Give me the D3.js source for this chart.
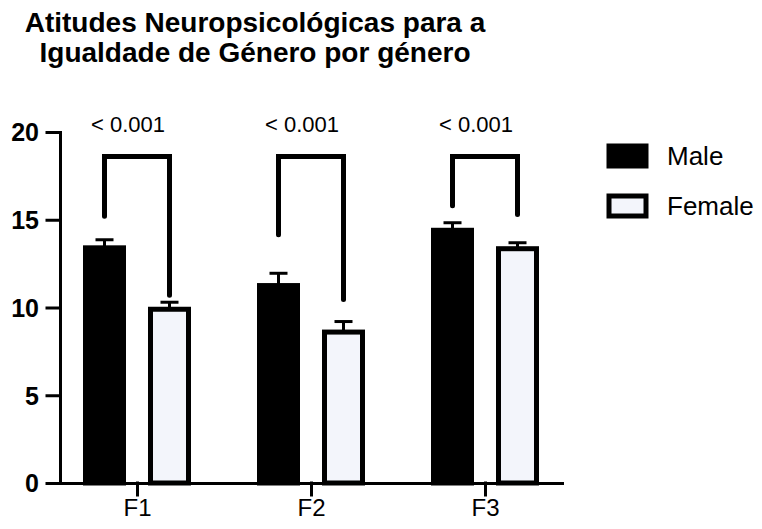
<!DOCTYPE html>
<html>
<head>
<meta charset="utf-8">
<script src="https://cdn.jsdelivr.net/npm/d3@7"></script>
<style>
    body { margin: 0; background: #fff; }
    svg { display: block; font-family: "Liberation Sans", Arial, sans-serif; }
</style>
</head>
<body>
<div id="chart"></div>
<script>
// data
const categories = ["F1", "F2", "F3"];
const series = ["Male", "Female"];
const maleMeans = [13.4, 11.25, 14.4];
const maleErr = [0.46, 0.7, 0.43];
const femaleMeans = [9.9, 8.6, 13.35];
const femaleErr = [0.4, 0.6, 0.34];
const yTicks = [0, 5, 10, 15, 20];
const pLabels = ["< 0.001", "< 0.001", "< 0.001"];
const bracketTop = 18.6;
const bracketLegMale = [15.2, 14.15, 15.8];
const bracketLegFemale = [10.7, 10.45, 15.3];
const titleLines = ["Atitudes Neuropsicológicas para a", "Igualdade de Género por género"];

const width = 762, height = 529;
const fills = {Male: "#000", Female: "#f3f5fb"};

let svg = d3.select("#chart").append("svg")
    .attr("width", width)
    .attr("height", height);

svg.append("rect").attr("width", width).attr("height", height).attr("fill", "#fff");

let ySc = d3.scaleLinear().domain([0, 20]).range([483, 132]);
let xSc = d3.scalePoint().domain(categories).range([60, 562]).padding(0.4425);
let offset = d3.scaleOrdinal().domain(series).range([-32.5, 32.5]);
let barW = 38;

let rows = [];
categories.forEach((c, i) => {
    rows.push({cat: c, s: "Male", v: maleMeans[i], e: maleErr[i]});
    rows.push({cat: c, s: "Female", v: femaleMeans[i], e: femaleErr[i]});
});

// title
svg.append("text")
    .attr("x", 255).attr("y", 32)
    .attr("text-anchor", "middle")
    .style("font-weight", "bold").style("font-size", "28px")
    .selectAll("tspan").data(titleLines).join("tspan")
    .attr("x", 255).attr("dy", (d, i) => i ? 30 : 0)
    .text(d => d);

// error bars (upper only)
let eb = svg.append("g").attr("stroke", "#000").attr("stroke-width", 3);
rows.forEach(d => {
    let cx = xSc(d.cat) + offset(d.s);
    eb.append("line").attr("x1", cx).attr("x2", cx)
        .attr("y1", ySc(d.v)).attr("y2", ySc(d.v + d.e));
    eb.append("line").attr("x1", cx - 9).attr("x2", cx + 9)
        .attr("y1", ySc(d.v + d.e)).attr("y2", ySc(d.v + d.e));
});

// bars
svg.append("g").selectAll("rect").data(rows).join("rect")
    .attr("x", d => xSc(d.cat) + offset(d.s) - barW / 2)
    .attr("y", d => ySc(d.v))
    .attr("width", barW)
    .attr("height", d => ySc(0) - ySc(d.v))
    .attr("fill", d => fills[d.s])
    .attr("stroke", "#000")
    .attr("stroke-width", 5);

// significance brackets
let br = svg.append("g");
categories.forEach((c, i) => {
    let x1 = xSc(c) + offset("Male"), x2 = xSc(c) + offset("Female");
    br.append("path")
        .attr("d", d3.line()([[x1, ySc(bracketLegMale[i])], [x1, ySc(bracketTop)],
            [x2, ySc(bracketTop)], [x2, ySc(bracketLegFemale[i])]]))
        .attr("fill", "none").attr("stroke", "#000")
        .attr("stroke-width", 5).attr("stroke-linecap", "round");
    br.append("text")
        .attr("x", xSc(c) - 9).attr("y", 132)
        .attr("text-anchor", "middle")
        .style("font-size", "22px")
        .text(pLabels[i]);
});

// axes
let yAxis = svg.append("g")
    .attr("transform", "translate(60,0)")
    .call(d3.axisLeft(ySc).tickValues(yTicks).tickSize(13).tickSizeOuter(0).tickPadding(8));
yAxis.selectAll("text").style("font-size", "25px").style("font-weight", "bold").attr("fill", "#000").attr("dy", "0.35em");

let xAxis = svg.append("g")
    .attr("transform", "translate(0,483)")
    .call(d3.axisBottom(xSc).tickSize(12).tickSizeOuter(0).tickPadding(4));
xAxis.selectAll("text").style("font-size", "24px").attr("fill", "#000");

svg.selectAll(".domain, .tick line").attr("stroke", "#000").attr("stroke-width", 3).attr("stroke-linecap", "square");

// legend
let lg = svg.append("g").attr("transform", "translate(609,146)");
series.forEach((s, i) => {
    let g = lg.append("g").attr("transform", "translate(0," + i * 50 + ")");
    g.append("rect").attr("width", 37).attr("height", 20)
        .attr("fill", fills[s]).attr("stroke", "#000").attr("stroke-width", 5);
    g.append("text").attr("x", 58).attr("y", 10).attr("dy", "0.35em")
        .style("font-size", "26px").text(s);
});
</script>
</body>
</html>
